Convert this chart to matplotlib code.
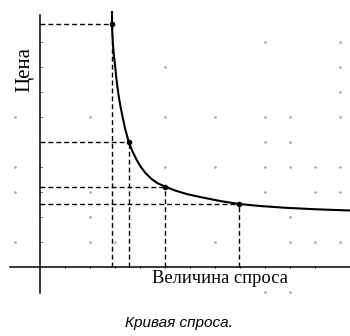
import matplotlib
matplotlib.use("Agg")
import matplotlib.pyplot as plt

# demand curve read along its length (quantity, price)
curve_q = [2.88, 2.88, 2.89, 2.91, 2.93, 2.96, 3.00, 3.04, 3.09, 3.15, 3.22,
           3.30, 3.40, 3.55, 3.70, 3.85, 4.00, 4.20, 4.45, 4.70, 5.00,
           5.40, 5.90, 6.50, 7.20, 7.96, 8.80, 9.80, 11.0, 12.4]
curve_p = [10.2, 9.72, 9.40, 9.05, 8.75, 8.42, 8.10, 7.68, 7.25, 6.82, 6.42,
           6.02, 5.55, 5.00, 4.62, 4.32, 4.05, 3.78, 3.53, 3.35, 3.22,
           3.06, 2.91, 2.78, 2.64, 2.52, 2.44, 2.37, 2.31, 2.26]

# marked points on the curve
pt_q = [2.88, 3.55, 5.00, 7.96]
pt_p = [9.72, 5.00, 3.22, 2.52]

# faint background dots
dot_x = [-1, 2, 5, 5, -1, 5, 9, 12, 12, 12, 7, 9, 10, 12, 9, 10, 7, 9, 10, 11, 12,
         -1, 2, 2, -1, 2, 3, 9, 11, 12, 10, 7, 10, 11, 12, 9, 10]
dot_y = [6, 6, 6, 8, 4, 4, 9, 9, 8, 7, 6, 6, 6, 6, 5, 5, 4, 4, 4, 4, 4,
         3, 3, 2, 1, 1, 1, 3, 3, 3, 2, 1, 1, 1, 1, -1, -1]

fig = plt.figure(figsize=(3.5, 3.36), dpi=100)
ax = fig.add_axes([0, 0, 1, 1])
ax.set_xlim(-1.6, 12.4)
ax.set_ylim(-2.76, 10.68)
ax.axis("off")

ax.scatter(dot_x, dot_y, s=0.8, color="#aaaaaa", zorder=1)

# axes lines with small tick marks
ax.plot([-1.2, 12.4], [0, 0], color="black", lw=1.1, zorder=3)
ax.plot([0, 0], [-1.05, 10.1], color="black", lw=1.1, zorder=3)
for k in range(1, 12):
    ax.plot([k, k], [-0.05, 0.05], color="#555555", lw=0.6)
for k in range(1, 10):
    ax.plot([-0.06, 0.06], [k, k], color="#555555", lw=0.6)

# dashed guides from each point to the axes
for q, p in zip(pt_q, pt_p):
    ax.plot([0, q], [p, p], color="black", lw=1.0, dashes=(3.5, 2.2), zorder=2)
    ax.plot([q, q], [0, p], color="black", lw=1.0, dashes=(3.5, 2.2), zorder=2)

ax.plot(curve_q, curve_p, color="black", lw=1.5, zorder=4,
        solid_joinstyle="round")
ax.plot(pt_q, pt_p, "o", color="black", ms=3, zorder=5)

ax.text(-0.6, 7.9, "Цена", rotation=90, ha="center", va="center",
        family="Liberation Serif", fontsize=15)
ax.text(4.5, -0.45, "Величина спроса", ha="left", va="center",
        family="Liberation Serif", fontsize=13.3)
fig.text(0.511, 0.04, "Кривая спроса.", ha="center", va="center",
         family="Liberation Sans", style="italic", fontsize=11)

fig.savefig("out.png", dpi=100)
